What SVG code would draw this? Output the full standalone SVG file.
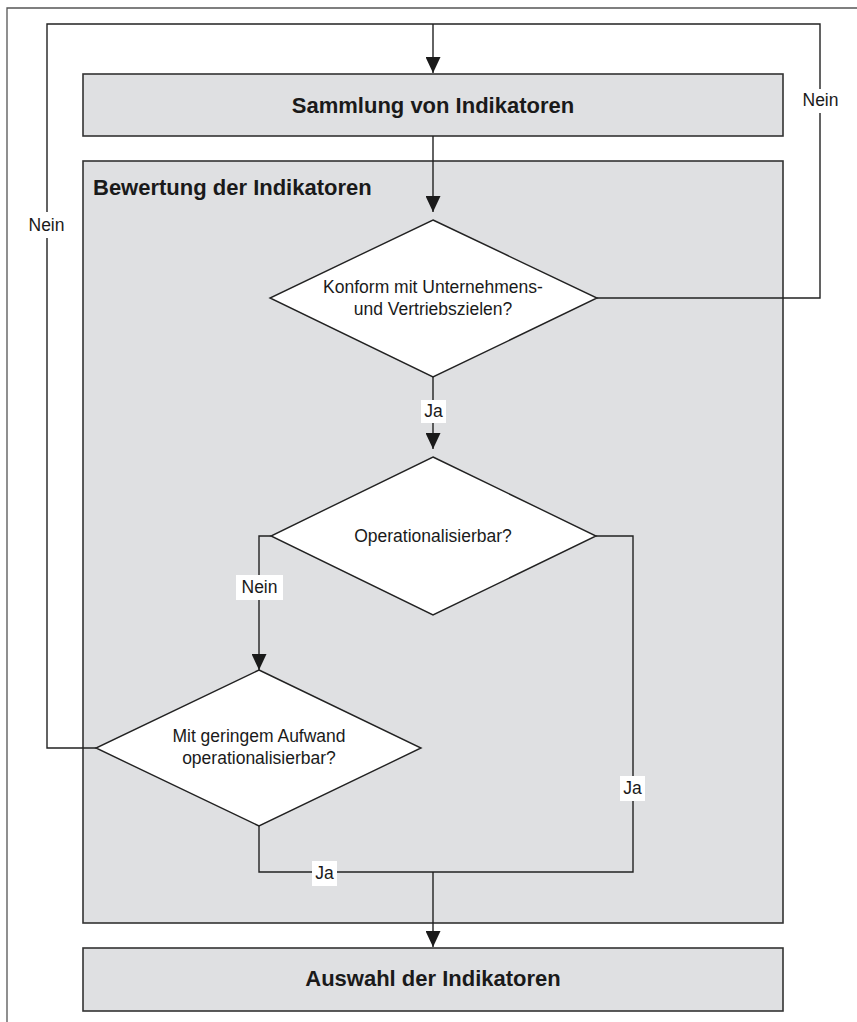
<svg xmlns="http://www.w3.org/2000/svg" width="857" height="1022" viewBox="0 0 857 1022">
  <style>
    .frame { fill: none; stroke: #555; stroke-width: 1.3; }
    .box { fill: #dfe0e2; stroke: #333; stroke-width: 1.6; }
    .decision { fill: #fff; stroke: #222; stroke-width: 1.4; }
    .wire { fill: none; stroke: #222; stroke-width: 1.4; }
    .title { font-family: "Liberation Sans", Arial, sans-serif; font-weight: bold; font-size: 22px; fill: #1a1a1a; }
    .txt { font-family: "Liberation Sans", Arial, sans-serif; font-size: 17.5px; fill: #1a1a1a; text-anchor: middle; }
    .lblbg { fill: #fff; }
  </style>
  <defs>
    <marker id="arrow" viewBox="0 0 16 15" refX="16" refY="7.5" markerWidth="16" markerHeight="15" markerUnits="userSpaceOnUse" orient="auto">
      <path d="M0,0 L16,7.5 L0,15 Z" fill="#1a1a1a"/>
    </marker>
  </defs>

  <rect x="0" y="0" width="857" height="1022" fill="#fff"/>

  <!-- page frame -->
  <path class="frame" d="M7,1022 V8 H857"/>

  <!-- stage boxes -->
  <g id="sammlung">
    <rect class="box" x="83" y="74" width="700" height="62"/>
    <text class="title" x="433" y="113" text-anchor="middle">Sammlung von Indikatoren</text>
  </g>
  <g id="bewertung">
    <rect class="box" x="83" y="161" width="700" height="762"/>
    <text class="title" x="93" y="195">Bewertung der Indikatoren</text>
  </g>
  <g id="auswahl">
    <rect class="box" x="83" y="948" width="700" height="63"/>
    <text class="title" x="433" y="986" text-anchor="middle">Auswahl der Indikatoren</text>
  </g>

  <!-- connectors -->
  <g id="connectors">
    <!-- entry loop into collection -->
    <path class="wire" d="M433,24 V73" marker-end="url(#arrow)"/>
    <path class="wire" d="M433,136 V212" marker-end="url(#arrow)"/>
    <!-- Nein from first decision back to top -->
    <path class="wire" d="M597,298 H820 V24 H47 V748 H96"/>
    <!-- Ja to second decision -->
    <path class="wire" d="M433,377 V449" marker-end="url(#arrow)"/>
    <!-- Nein to third decision -->
    <path class="wire" d="M271,536 H259 V670" marker-end="url(#arrow)"/>
    <!-- Ja branches merging -->
    <path class="wire" d="M596,536 H633 V872 H259 V826"/>
    <path class="wire" d="M433,872 V947" marker-end="url(#arrow)"/>

    <!-- branch labels -->
    <rect class="lblbg" x="801" y="89" width="39" height="24"/>
    <text class="txt" x="820.5" y="106">Nein</text>
    <rect class="lblbg" x="27" y="212" width="40" height="26"/>
    <text class="txt" x="46.5" y="231">Nein</text>
    <rect class="lblbg" x="421" y="400" width="25" height="23"/>
    <text class="txt" x="433.5" y="417">Ja</text>
    <rect class="lblbg" x="236" y="575" width="47" height="25"/>
    <text class="txt" x="259.5" y="593">Nein</text>
    <rect class="lblbg" x="620" y="776" width="25" height="25"/>
    <text class="txt" x="632.5" y="794">Ja</text>
    <rect class="lblbg" x="312" y="861" width="25" height="25"/>
    <text class="txt" x="324.5" y="879">Ja</text>
  </g>

  <!-- decisions -->
  <g id="konform">
    <polygon class="decision" points="433,220 597,298 433,377 270,298"/>
    <text class="txt" x="433" y="293">Konform mit Unternehmens-</text>
    <text class="txt" x="433" y="315">und Vertriebszielen?</text>
  </g>
  <g id="operationalisierbar">
    <polygon class="decision" points="433,457 596,536 433,615 271,536"/>
    <text class="txt" x="433" y="542">Operationalisierbar?</text>
  </g>
  <g id="aufwand">
    <polygon class="decision" points="259,670 421,748 259,826 96,748"/>
    <text class="txt" x="259" y="742">Mit geringem Aufwand</text>
    <text class="txt" x="259" y="764">operationalisierbar?</text>
  </g>
</svg>
